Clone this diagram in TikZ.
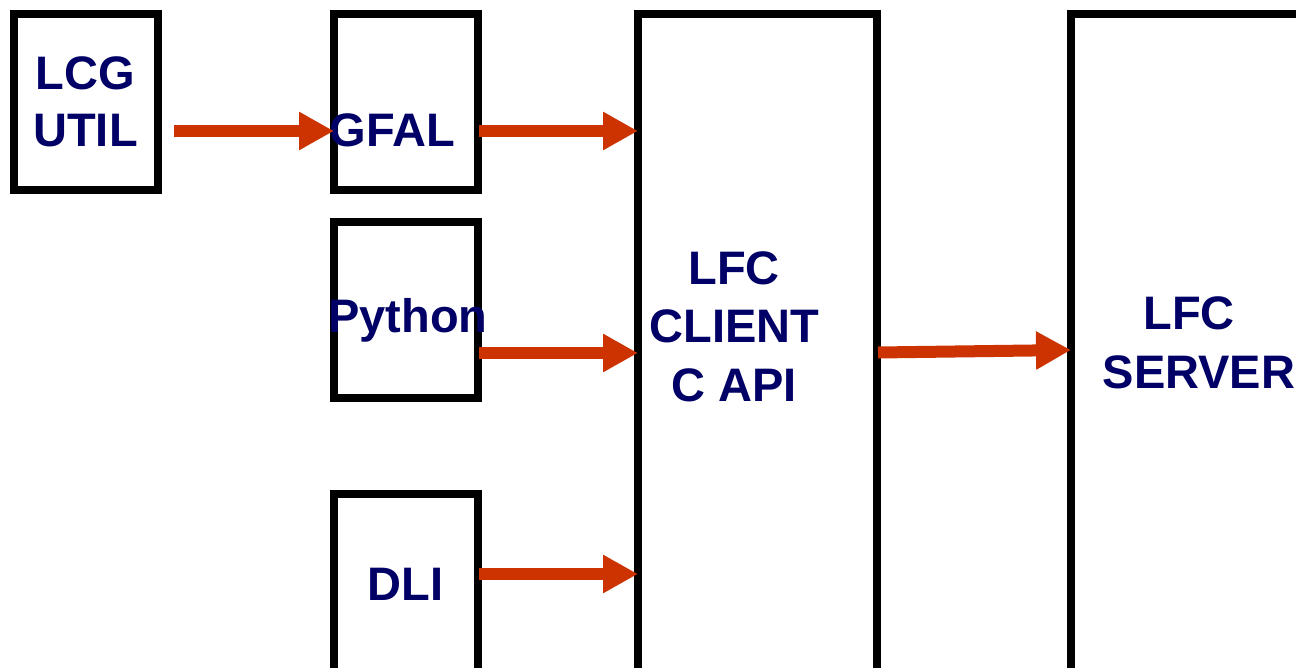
\documentclass[tikz,border=0pt]{standalone}
\usepackage{fontspec}
\setmainfont{Liberation Sans}
\usetikzlibrary{arrows.meta}
\definecolor{arrowred}{HTML}{CC3300}
\definecolor{navytext}{HTML}{000066}
\begin{document}
\begin{tikzpicture}[x=1pt,y=-1pt,
  box/.style={draw=black, line width=7.5pt, fill=white, inner sep=0pt, outer sep=0pt},
  lbl/.style={anchor=base, inner sep=0pt, outer sep=0pt, text=navytext,
    font=\fontsize{47}{58}\selectfont\bfseries},
  arr/.style={draw=arrowred, line width=12pt,
    -{Triangle[length=35pt,width=36pt]}}]
\useasboundingbox (0,0) rectangle (1296,668);
\fill[white] (0,0) rectangle (1296,668);
\clip (0,0) rectangle (1296,668);
% boxes
\node[box, minimum width=144pt, minimum height=176pt] (lcg) at (86,102) {};
\node[box, minimum width=144pt, minimum height=176pt] (gfal) at (406,102) {};
\node[box, minimum width=144pt, minimum height=176pt] (python) at (406,310) {};
\node[box, minimum width=144pt, minimum height=181pt] (dli) at (406,584.5) {};
\node[box, minimum width=239pt, minimum height=661pt] (client) at (757.5,344.5) {};
\node[box, minimum width=240pt, minimum height=661pt] (server) at (1191,344.5) {};
% labels
\node[lbl] (lcgA) at (85,90) {LCG};
\node[lbl] (lcgB) at (85.5,147) {UTIL};
\node[lbl] (gfalT) at (392.5,147) {GFAL};
\node[lbl] (pyT) at (408,333) {Python};
\node[lbl] (dliT) at (405.5,600) {DLI};
\node[lbl] (clA) at (734,285) {LFC};
\node[lbl] (clB) at (734.5,343) {CLIENT};
\node[lbl] (clC) at (734,401) {C API};
\node[lbl] (svA) at (1189,330) {LFC};
\node[lbl] (svB) at (1199,388) {SERVER};
% arrows
\draw[arr] ([xshift=16pt,yshift=-29pt]lcg.east) -- ([yshift=-29pt]gfal.west);
\draw[arr] ([xshift=1pt,yshift=-29pt]gfal.east) -- ([yshift=-29pt]client.west |- gfal.east);
\draw[arr] ([xshift=1pt,yshift=-43pt]python.east) -- ([yshift=-43pt]client.west |- python.east);
\draw[arr] ([xshift=1pt,yshift=10.5pt]dli.east) -- ([yshift=10.5pt]client.west |- dli.east);
\draw[arr] ([xshift=1pt,yshift=-8pt]client.east) -- ([yshift=-5.5pt]server.west);
\end{tikzpicture}
\end{document}
